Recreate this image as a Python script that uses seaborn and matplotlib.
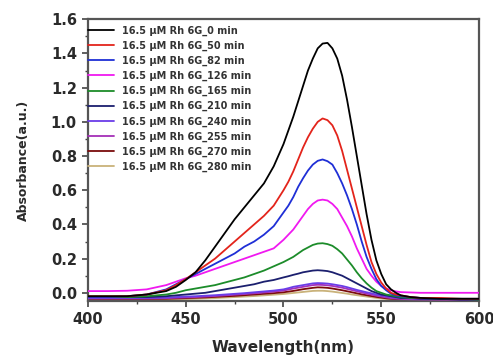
import numpy as np
import pandas as pd
import matplotlib
matplotlib.use("Agg")
import matplotlib.pyplot as plt
from matplotlib.ticker import MultipleLocator
import seaborn as sns

times = ["0", "50", "82", "126", "165", "210", "240", "255", "270", "280"]
labels = ["16.5 \u03bcM Rh 6G_%s min" % t for t in times]
colors = ["#000000", "#e3241b", "#1f2fd6", "#f019f0", "#1c8c2a", "#1b1f6e",
          "#6a3de8", "#a52fb8", "#7a0c0c", "#c9b27a"]

wl = [400, 410, 420, 430, 440, 445, 450, 455, 460, 465, 470, 475, 480, 485, 490, 495,
      500, 502.5, 505, 507.5, 510, 512.5, 515, 517.5, 520, 522.5, 525, 527.5, 530, 532.5,
      535, 537.5, 540, 542.5, 545, 547.5, 550, 552.5, 555, 557.5, 560, 565, 570, 580,
      590, 600]
a_0 = [-0.02, -0.02, -0.02, -0.01, 0.01, 0.035, 0.075, 0.12, 0.19, 0.27, 0.35, 0.43, 0.50,
       0.57, 0.64, 0.74, 0.87, 0.95, 1.03, 1.12, 1.21, 1.30, 1.37, 1.43, 1.458, 1.462, 1.43,
       1.37, 1.27, 1.13, 0.97, 0.80, 0.63, 0.46, 0.31, 0.19, 0.11, 0.05, 0.02, 0.00, -0.015,
       -0.025, -0.03, -0.035, -0.035, -0.035]
a_50 = [-0.02, -0.02, -0.02, -0.01, 0.015, 0.045, 0.08, 0.12, 0.16, 0.20, 0.25, 0.30, 0.35,
        0.40, 0.45, 0.51, 0.60, 0.65, 0.71, 0.78, 0.85, 0.91, 0.96, 1.00, 1.02, 1.01, 0.98,
        0.92, 0.83, 0.72, 0.61, 0.50, 0.39, 0.28, 0.18, 0.11, 0.06, 0.025, 0.00, -0.01,
        -0.015, -0.025, -0.03, -0.03, -0.035, -0.035]
a_82 = [-0.025, -0.025, -0.02, -0.01, 0.02, 0.05, 0.08, 0.11, 0.14, 0.17, 0.20, 0.23, 0.27,
        0.30, 0.34, 0.39, 0.47, 0.51, 0.56, 0.62, 0.67, 0.715, 0.75, 0.772, 0.78, 0.77, 0.75,
        0.70, 0.64, 0.57, 0.49, 0.40, 0.30, 0.21, 0.14, 0.08, 0.04, 0.015, -0.005, -0.015,
        -0.02, -0.025, -0.03, -0.035, -0.035, -0.035]
a_126 = [0.01, 0.01, 0.012, 0.02, 0.045, 0.065, 0.085, 0.10, 0.12, 0.14, 0.16, 0.18, 0.20,
         0.22, 0.24, 0.26, 0.31, 0.34, 0.37, 0.41, 0.45, 0.49, 0.52, 0.54, 0.545, 0.54, 0.52,
         0.49, 0.44, 0.39, 0.33, 0.26, 0.20, 0.14, 0.10, 0.065, 0.04, 0.025, 0.015, 0.008,
         0.004, 0.002, 0.0, 0.0, 0.0, 0.0]
a_165 = [-0.025, -0.025, -0.025, -0.02, -0.01, 0.0, 0.015, 0.025, 0.035, 0.045, 0.06, 0.075,
         0.09, 0.11, 0.13, 0.155, 0.18, 0.195, 0.21, 0.23, 0.25, 0.265, 0.28, 0.288, 0.29,
         0.285, 0.275, 0.255, 0.23, 0.195, 0.16, 0.12, 0.085, 0.055, 0.03, 0.01, 0.0, -0.01,
         -0.015, -0.02, -0.025, -0.03, -0.03, -0.035, -0.035, -0.04]
a_210 = [-0.025, -0.025, -0.025, -0.025, -0.02, -0.015, -0.01, -0.005, 0.0, 0.01, 0.02, 0.03,
         0.04, 0.05, 0.065, 0.075, 0.09, 0.097, 0.105, 0.112, 0.12, 0.125, 0.13, 0.132, 0.13,
         0.127, 0.12, 0.11, 0.10, 0.085, 0.07, 0.055, 0.04, 0.025, 0.01, 0.0, -0.01, -0.015,
         -0.02, -0.025, -0.03, -0.03, -0.035, -0.035, -0.04, -0.04]
a_240 = [-0.03, -0.03, -0.03, -0.03, -0.028, -0.025, -0.022, -0.02, -0.017, -0.014, -0.01,
         -0.006, -0.002, 0.003, 0.008, 0.013, 0.02, 0.027, 0.035, 0.04, 0.045, 0.05, 0.055,
         0.057, 0.056, 0.054, 0.05, 0.045, 0.04, 0.033, 0.025, 0.017, 0.01, 0.003, -0.003,
         -0.01, -0.015, -0.02, -0.025, -0.028, -0.03, -0.033, -0.035, -0.035, -0.037, -0.037]
a_255 = [-0.033, -0.033, -0.033, -0.033, -0.031, -0.029, -0.027, -0.025, -0.022, -0.019,
         -0.015, -0.011, -0.007, -0.003, 0.002, 0.007, 0.013, 0.019, 0.025, 0.03, 0.035, 0.04,
         0.045, 0.047, 0.046, 0.044, 0.04, 0.035, 0.03, 0.023, 0.016, 0.009, 0.002, -0.005,
         -0.011, -0.017, -0.022, -0.027, -0.031, -0.034, -0.036, -0.038, -0.039, -0.04, -0.04,
         -0.04]
a_270 = [-0.036, -0.036, -0.036, -0.036, -0.035, -0.033, -0.031, -0.029, -0.027, -0.024,
         -0.021, -0.018, -0.014, -0.01, -0.006, -0.002, 0.003, 0.007, 0.011, 0.016, 0.021,
         0.025, 0.029, 0.032, 0.031, 0.029, 0.025, 0.02, 0.015, 0.009, 0.003, -0.003, -0.009,
         -0.014, -0.019, -0.024, -0.028, -0.032, -0.035, -0.037, -0.039, -0.041, -0.042,
         -0.042, -0.043, -0.043]
a_280 = [-0.04, -0.04, -0.04, -0.04, -0.039, -0.038, -0.037, -0.035, -0.033, -0.031, -0.028,
         -0.025, -0.022, -0.019, -0.015, -0.011, -0.007, -0.004, -0.001, 0.002, 0.005, 0.008,
         0.011, 0.012, 0.012, 0.01, 0.007, 0.003, -0.001, -0.005, -0.01, -0.014, -0.018,
         -0.022, -0.026, -0.03, -0.033, -0.036, -0.038, -0.04, -0.041, -0.042, -0.043,
         -0.044, -0.044, -0.044]
series = [a_0, a_50, a_82, a_126, a_165, a_210, a_240, a_255, a_270, a_280]

x_ticks = [400, 450, 500, 550, 600]
y_ticks = [0.0, 0.2, 0.4, 0.6, 0.8, 1.0, 1.2, 1.4, 1.6]

rows = []
for lab, vals in zip(labels, series):
    for w, v in zip(wl, vals):
        rows.append({"Wavelength": w, "Absorbance": v, "Sample": lab})
df = pd.DataFrame(rows)

sns.set_theme(style="white")
plt.rcParams['font.family'] = ['DejaVu Sans']

fig = plt.figure(figsize=(4.93, 3.58), dpi=100)
ax = fig.add_axes([0.1785, 0.1592, 0.7931, 0.7869])

sns.lineplot(data=df, x="Wavelength", y="Absorbance", hue="Sample",
             hue_order=labels, palette=colors, estimator=None, sort=False,
             linewidth=1.3, ax=ax)
for ln, z in zip(ax.get_lines(), range(10, 0, -1)):
    ln.set_zorder(z)

ax.set_xlim(400, 600)
ax.set_ylim(-0.048, 1.6)
ax.set_xticks(x_ticks)
ax.set_xticklabels([str(t) for t in x_ticks])
ax.set_yticks(y_ticks)
ax.set_yticklabels(["%.1f" % t for t in y_ticks])
ax.xaxis.set_minor_locator(MultipleLocator(25))
ax.yaxis.set_minor_locator(MultipleLocator(0.1))
ax.tick_params(which="major", direction="out", length=4.5, width=1.2, color="#444444",
               bottom=True, left=True, labelsize=10.5, pad=3.5)
ax.tick_params(which="minor", direction="out", length=2.5, width=1.0, color="#444444",
               bottom=True, left=True)
for lab in ax.get_xticklabels() + ax.get_yticklabels():
    lab.set_fontweight("bold")
    lab.set_color("#2a2a2a")

for sp in ax.spines.values():
    sp.set_linewidth(1.6)
    sp.set_color("#555555")

ax.set_xlabel("Wavelength(nm)", fontsize=11, fontweight="bold", color="#2a2a2a", labelpad=9)
ax.set_ylabel("Absorbance(a.u.)", fontsize=9, fontweight="bold", color="#2a2a2a", labelpad=15)

leg = ax.legend(loc="upper left", frameon=False, fontsize=7, handlelength=2.7,
                handletextpad=0.8, labelspacing=0.5, borderaxespad=0.0,
                borderpad=0.35, bbox_to_anchor=(-0.009, 0.99))
for t in leg.get_texts():
    t.set_fontweight("bold")
    t.set_color("#333333")
for h in leg.get_lines():
    h.set_linewidth(1.3)

fig.savefig("out.png", dpi=100)
